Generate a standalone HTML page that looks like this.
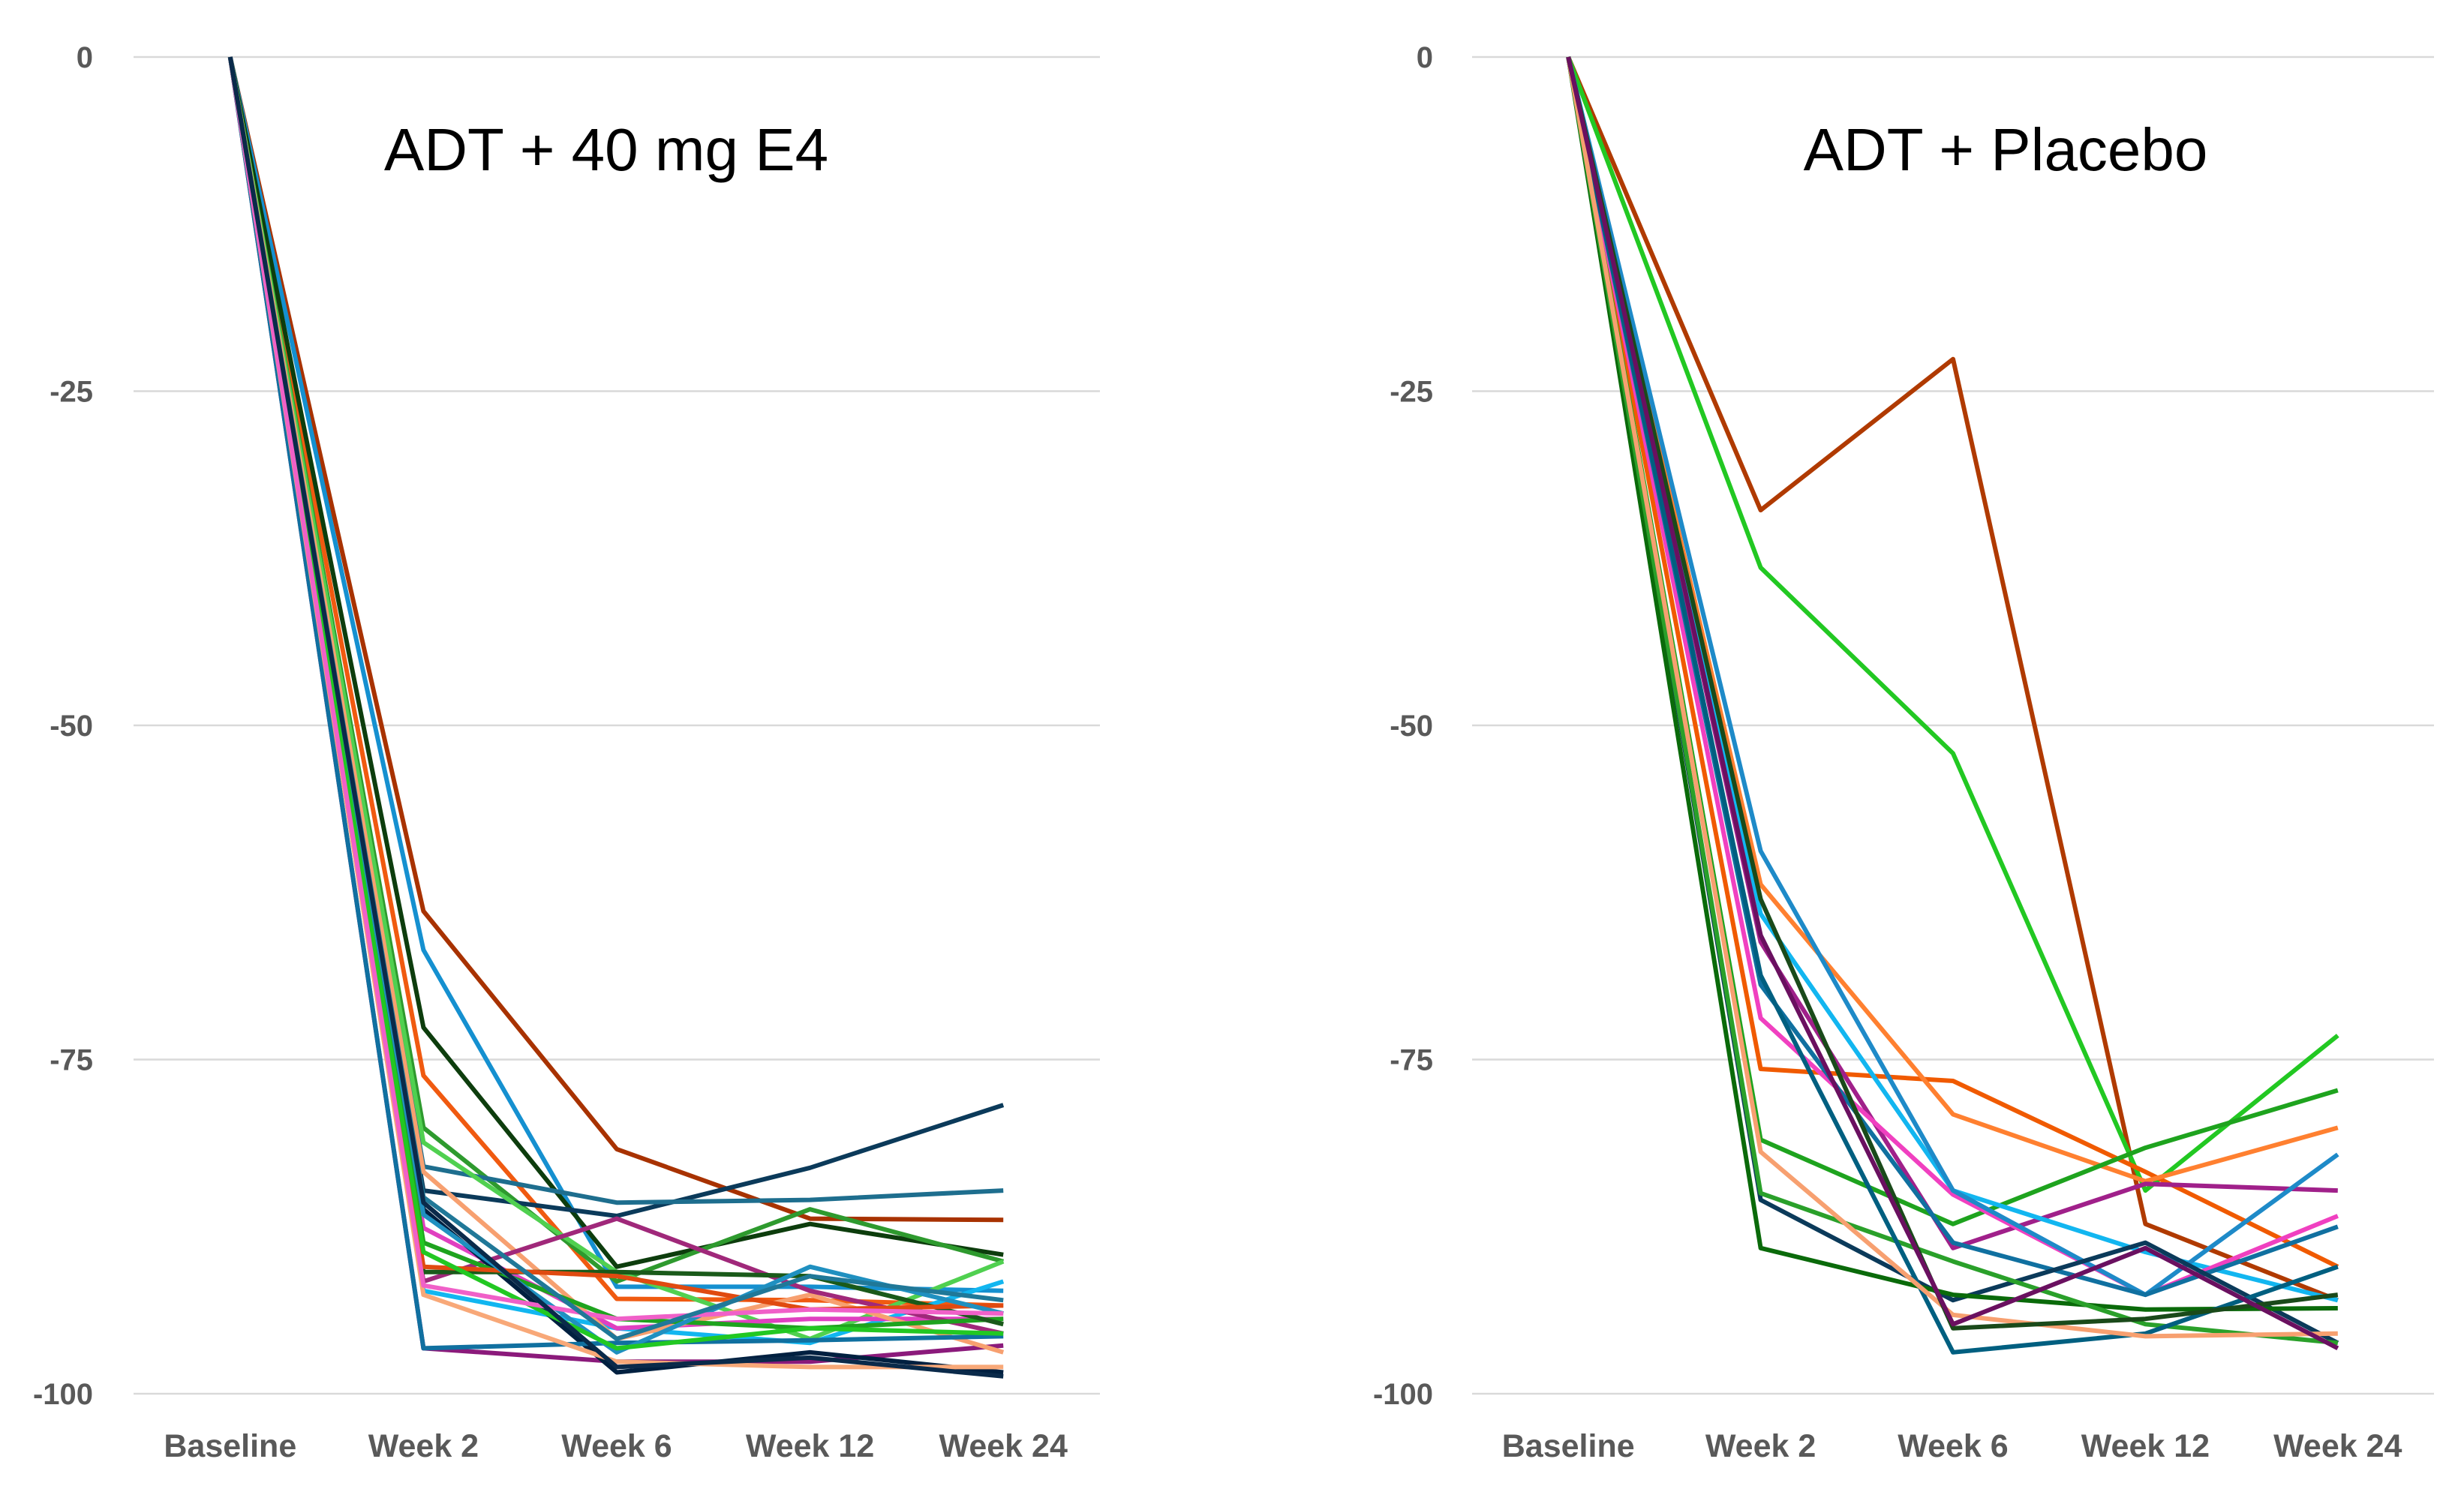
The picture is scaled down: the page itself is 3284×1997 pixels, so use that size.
<!DOCTYPE html>
<html><head><meta charset="utf-8"><style>
html,body{margin:0;padding:0;background:#fff}
svg{display:block}
</style></head><body>
<svg id="chart" width="3284" height="1997" viewBox="0 0 3284 1997" xmlns="http://www.w3.org/2000/svg"></svg>
<script>
const categories = ["Baseline","Week 2","Week 6","Week 12","Week 24"];
const yTicks = [0,-25,-50,-75,-100];
const leftColors = ["#a83200","#1590d0","#f05a10","#0d3d0d","#2e9a2e","#0b3a5a","#1e6e8e","#8b1a7b","#50d050","#12b6f0","#e040c0","#f7a070","#a0287a","#002040","#1070a0","#1ea31e","#1a5a1a","#e04a10","#2090c0","#22c822","#f8a878","#f060c8","#207898","#0a2a4a"];
const leftSeries = [
 [0,-63.9,-81.7,-86.9,-87.0],[0,-66.8,-92.0,-92.0,-92.3],[0,-76.2,-92.9,-93.0,-93.4],[0,-72.6,-90.5,-87.3,-89.6],
 [0,-80.1,-91.6,-86.2,-90.1],[0,-84.8,-86.7,-83.1,-78.4],[0,-83.0,-85.7,-85.5,-84.8],[0,-96.6,-97.6,-97.6,-96.4],
 [0,-81.2,-90.9,-95.9,-90.1],[0,-92.3,-95.1,-96.2,-91.6],[0,-87.6,-95.1,-94.4,-94.4],[0,-83.4,-95.9,-92.6,-96.9],
 [0,-91.6,-86.9,-92.3,-95.5],[0,-86.2,-98.4,-96.9,-98.4],[0,-96.6,-96.2,-96.0,-95.7],[0,-88.7,-94.4,-95.1,-94.4],
 [0,-90.9,-90.9,-91.2,-94.8],[0,-90.5,-91.2,-93.7,-93.4],[0,-86.6,-96.9,-90.5,-94.0],[0,-89.4,-96.6,-95.1,-95.5],
 [0,-92.6,-97.6,-98.0,-98.0],[0,-91.9,-94.4,-93.7,-94.0],[0,-85.3,-95.9,-91.2,-93.0],[0,-85.7,-98.0,-97.3,-98.7]
];
const rightColors = ["#b03a00","#22c822","#f05a00","#ff8030","#1ea31e","#a0208a","#12b6f0","#f040c0","#1e8ac8","#1070a0","#0b3a5a","#0a6a0a","#2aa02a","#005f80","#f7a070","#1a4a1a","#6a1060"];
const rightSeries = [
 [0,-33.9,-22.6,-87.3,-93.0],[0,-38.2,-52.1,-84.8,-73.2],[0,-75.7,-76.6,-83.4,-90.5],[0,-61.9,-79.1,-84.1,-80.1],
 [0,-81.0,-87.3,-81.6,-77.3],[0,-66.2,-89.1,-84.3,-84.8],[0,-64.1,-84.8,-89.4,-93.0],[0,-71.9,-85.1,-92.6,-86.7],
 [0,-59.4,-84.8,-92.6,-82.1],[0,-69.4,-88.7,-92.6,-87.5],[0,-85.5,-93.0,-88.7,-96.2],[0,-89.1,-92.6,-93.7,-93.6],
 [0,-85.0,-90.1,-94.8,-96.2],[0,-68.7,-96.9,-95.5,-90.5],[0,-81.9,-94.1,-95.7,-95.5],[0,-63.0,-95.1,-94.4,-92.6],
 [0,-65.7,-94.8,-89.1,-96.6]
];
const NS="http://www.w3.org/2000/svg";
const svg=document.getElementById('chart');
function el(t,a,p){const e=document.createElementNS(NS,t);for(const k in a)e.setAttribute(k,a[k]);(p||svg).appendChild(e);return e;}
function panel(name,x0,x1,labelRight,title,titleX,series,colors){
  const g=el('g',{});
  
  
  const yTop=76,yBot=1858;
  const yScale=v=>yTop+(0-v)/100*(yBot-yTop);
  const band=(x1-x0)/categories.length;
  const xScale=i=>x0+band*(i+0.5);
  yTicks.forEach(t=>{
    const l=el('line',{x1:x0,x2:x1,y1:yScale(t),y2:yScale(t),stroke:'#d9d9d9','stroke-width':2.5},g);
    
    
    const tx=el('text',{x:labelRight,y:yScale(t)+14,'text-anchor':'end','font-family':'Liberation Sans, sans-serif','font-weight':'bold','font-size':40,fill:'#595959'},g);
    tx.textContent=String(t);
    
    
  });
  categories.forEach((c,i)=>{
    const tx=el('text',{x:xScale(i),y:1942,'text-anchor':'middle','font-family':'Liberation Sans, sans-serif','font-weight':'bold','font-size':43,fill:'#595959'},g);
    tx.textContent=c;
    
    
  });
  series.forEach((s,si)=>{
    const pts=s.map((v,i)=>xScale(i).toFixed(1)+','+yScale(v).toFixed(1)).join(' ');
    const p=el('polyline',{points:pts,fill:'none',stroke:colors[si%colors.length],'stroke-width':6,'stroke-linejoin':'round'},g);
    
    
  });
  const tt=el('text',{x:titleX,y:227,'text-anchor':'middle','font-family':'Liberation Sans, sans-serif','font-size':80,fill:'#000'},g);
  tt.textContent=title;
  
  
}
panel('e4-chart',178,1466,124,'ADT + 40 mg E4',808,leftSeries,leftColors);
panel('placebo-chart',1962,3244,1910,'ADT + Placebo',2673,rightSeries,rightColors);
</script>
</body></html>
